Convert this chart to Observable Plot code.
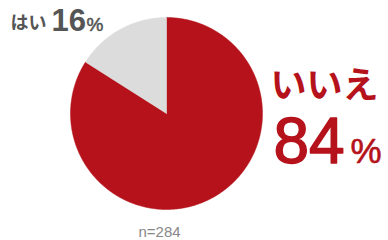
<!DOCTYPE html>
<html><head><meta charset="utf-8">
<script src="https://cdn.jsdelivr.net/npm/d3@7"></script>
<script src="https://cdn.jsdelivr.net/npm/@observablehq/plot@0.6"></script>
<style>html,body{margin:0;padding:0;background:#fff;}</style>
</head><body><div id="chart"></div>
<script>
const categories = ["いいえ", "はい"];
const values = [84, 16];
const colors = ["#b5121b", "#dcdcdc"];
const sampleNote = "n=284";

// build slice polygons (clockwise from 12 o'clock) from the values
const total = d3.sum(values);
const pts = [];
let acc = 0;
categories.forEach((c, i) => {
  const a0 = acc / total * 2 * Math.PI;
  acc += values[i];
  const a1 = acc / total * 2 * Math.PI;
  pts.push({cat: c, x: 0, y: 0});
  const n = Math.max(2, Math.ceil((a1 - a0) / 0.01));
  for (let k = 0; k <= n; k++) {
    const a = a0 + (a1 - a0) * k / n;
    pts.push({cat: c, x: Math.sin(a), y: Math.cos(a)});
  }
  pts.push({cat: c, x: 0, y: 0});
});

const R = 96, cx = 166, cy = 113, W = 388, H = 240;
const jp = "'Noto Sans CJK JP', sans-serif";
const lat = "'Liberation Sans', Arial, sans-serif";
const t = (txt, dx, dy, size, fill, font, weight = "bold", sw = 0) =>
  Plot.text([txt], {text: d => d, frameAnchor: "top-left", dx, dy, textAnchor: "start", lineAnchor: "bottom",
    fontSize: size, fill, fontFamily: font, fontWeight: weight,
    stroke: sw ? fill : undefined, strokeWidth: sw || undefined});

const chart = Plot.plot({
  width: W, height: H, margin: 0,
  x: {domain: [-cx / R, (W - cx) / R], range: [0, W], axis: null},
  y: {domain: [-(H - cy) / R, cy / R], range: [H, 0], axis: null},
  color: {domain: categories, range: colors},
  style: {background: "#fff", overflow: "visible"},
  marks: [
    Plot.line(pts, {x: "x", y: "y", z: "cat", fill: "cat", stroke: "cat", strokeWidth: 0.5, curve: "linear"}),
    t("はい", 10, 28, 18, "#555", jp),
    t(String(values[1]), 51, 30, 31, "#555", lat),
    t("%", 86, 30, 19, "#555", lat, "normal", 0.5),
    t("いいえ", 270, 97, 36, colors[0], jp),
    t(String(values[0]), 273, 162, 64, colors[0], lat, "normal", 1.4),
    t("%", 350, 162, 35, colors[0], lat, "normal", 0.6),
    t(sampleNote, 138, 236, 15, "#888", lat, "normal")
  ]
});
document.getElementById("chart").appendChild(chart);
</script></body></html>
